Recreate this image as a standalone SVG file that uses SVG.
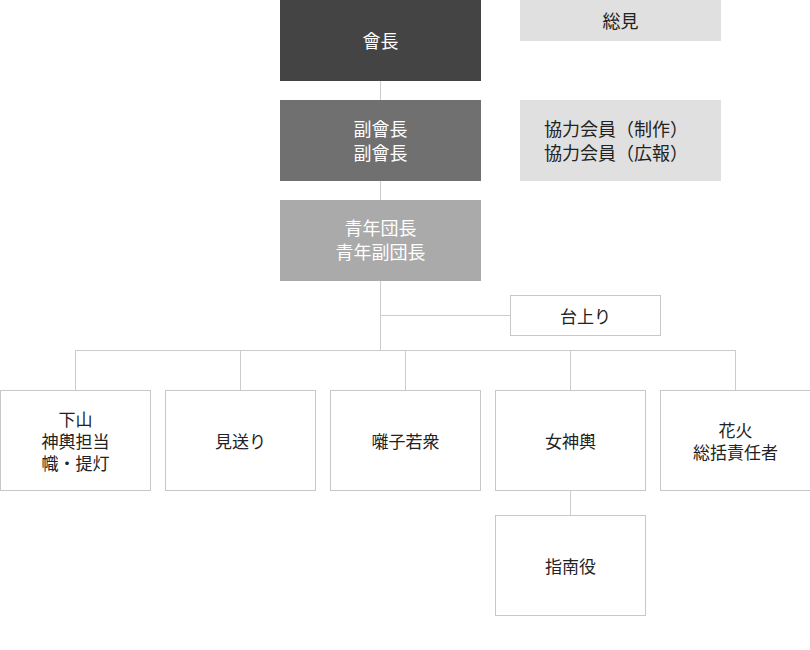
<svg xmlns="http://www.w3.org/2000/svg" width="810" height="650" viewBox="0 0 810 650">
<style>
text{font-family:"Noto Sans CJK JP","Noto Sans CJK SC",sans-serif;text-anchor:middle;dominant-baseline:central;font-size:18px;fill:#222}
.w{fill:#fff}
.s{font-size:17px}
.box{fill:#fff;stroke:#c8c8c8;stroke-width:1}
.ln{stroke:#cccccc;stroke-width:1;fill:none}
</style>
<rect width="810" height="650" fill="#fff"/>
<g id="connectors">
<path class="ln" d="M380.5 81V350.5M380.5 315.5H510.5M75.5 350.5H735.5M75.5 350V390M240.5 350V390M405.5 350V390M570.5 350V390M735.5 350V390M570.5 490V515"/>
</g>
<g id="n-kaicho"><rect x="280" y="0" width="201" height="81" fill="#444"/><text class="w" x="380.5" y="40">會長</text></g>
<g id="n-soken"><rect x="520" y="0" width="201" height="41" fill="#e0e0e0"/><text x="620.5" y="20">総見</text></g>
<g id="n-fukukaicho"><rect x="280" y="100" width="201" height="81" fill="#707070"/><text class="w" x="380.5" y="128">副會長</text><text class="w" x="380.5" y="152">副會長</text></g>
<g id="n-kyoryoku"><rect x="520" y="100" width="201" height="81" fill="#e0e0e0"/><text x="616" y="128">協力会員（制作）</text><text x="616" y="152">協力会員（広報）</text></g>
<g id="n-seinen"><rect x="280" y="200" width="201" height="81" fill="#aaaaaa"/><text class="w" x="380.5" y="227">青年団長</text><text class="w" x="380.5" y="251">青年副団長</text></g>
<g id="n-daiagari"><rect class="box" x="510.5" y="295.5" width="150" height="40"/><text class="s" x="585.5" y="315">台上り</text></g>
<g id="n-shimoyama"><rect class="box" x="0.5" y="390.5" width="150" height="100"/><text class="s" x="75.5" y="418">下山</text><text class="s" x="75.5" y="440">神輿担当</text><text class="s" x="75.5" y="462">幟・提灯</text></g>
<g id="n-miokuri"><rect class="box" x="165.5" y="390.5" width="150" height="100"/><text class="s" x="240.5" y="440">見送り</text></g>
<g id="n-hayashi"><rect class="box" x="330.5" y="390.5" width="150" height="100"/><text class="s" x="405.5" y="440">囃子若衆</text></g>
<g id="n-onnamikoshi"><rect class="box" x="495.5" y="390.5" width="150" height="100"/><text class="s" x="570.5" y="440">女神輿</text></g>
<g id="n-hanabi"><rect class="box" x="660.5" y="390.5" width="150" height="100"/><text class="s" x="735.5" y="429">花火</text><text class="s" x="735.5" y="451">総括責任者</text></g>
<g id="n-shinanyaku"><rect class="box" x="495.5" y="515.5" width="150" height="100"/><text class="s" x="570.5" y="565">指南役</text></g>
</svg>
